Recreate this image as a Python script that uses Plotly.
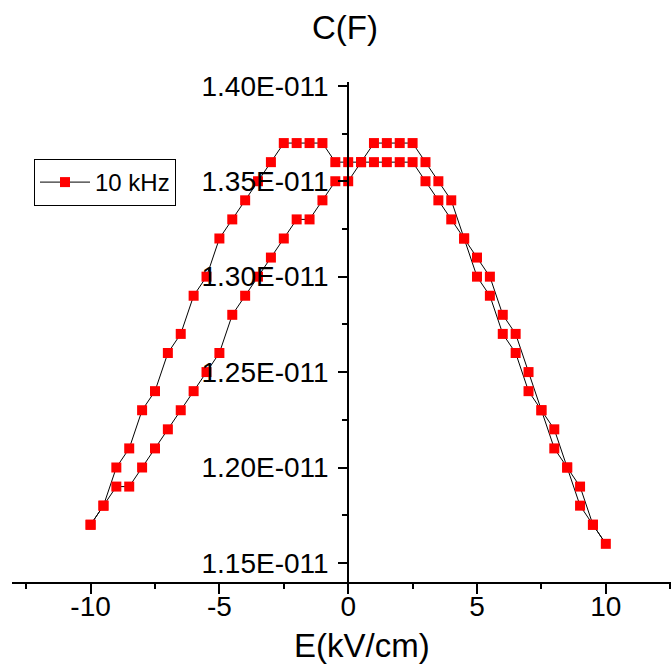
import plotly.graph_objects as go

# Forward sweep (-10 -> +10 kV/cm)
E_forward = [-10, -9.5, -9, -8.5, -8, -7.5, -7, -6.5, -6, -5.5, -5, -4.5, -4, -3.5, -3, -2.5,
             -2, -1.5, -1, -0.5, 0, 0.5, 1, 1.5, 2, 2.5, 3, 3.5, 4, 4.5, 5, 5.5, 6, 6.5, 7,
             7.5, 8, 8.5, 9, 9.5, 10]
C_forward = [1.17, 1.18, 1.19, 1.19, 1.20, 1.21, 1.22, 1.23, 1.24, 1.25, 1.26, 1.28, 1.29, 1.30,
             1.31, 1.32, 1.33, 1.33, 1.34, 1.35, 1.35, 1.36, 1.37, 1.37, 1.37, 1.37, 1.36, 1.35,
             1.34, 1.32, 1.31, 1.30, 1.28, 1.27, 1.25, 1.23, 1.22, 1.20, 1.19, 1.17, 1.16]

# Backward sweep (+9.5 -> -10 kV/cm)
E_backward = [9.5, 9, 8.5, 8, 7.5, 7, 6.5, 6, 5.5, 5, 4.5, 4, 3.5, 3, 2.5, 2, 1.5, 1, 0.5, 0,
              -0.5, -1, -1.5, -2, -2.5, -3, -3.5, -4, -4.5, -5, -5.5, -6, -6.5, -7, -7.5, -8,
              -8.5, -9, -9.5, -10]
C_backward = [1.17, 1.18, 1.20, 1.21, 1.23, 1.24, 1.26, 1.27, 1.29, 1.30, 1.32, 1.33, 1.34, 1.35,
              1.36, 1.36, 1.36, 1.36, 1.36, 1.36, 1.36, 1.37, 1.37, 1.37, 1.37, 1.36, 1.35, 1.34,
              1.33, 1.32, 1.30, 1.29, 1.27, 1.26, 1.24, 1.23, 1.21, 1.20, 1.18, 1.17]

C_scale = 1e-11
series_name = "10 kHz"

x_tick_values = [-10, -5, 0, 5, 10]
x_tick_labels = ["-10", "-5", "0", "5", "10"]
y_tick_values = [1.15, 1.20, 1.25, 1.30, 1.35, 1.40]
y_tick_labels = ["1.15E-011", "1.20E-011", "1.25E-011", "1.30E-011", "1.35E-011", "1.40E-011"]
y_minor_values = [1.175, 1.225, 1.275, 1.325, 1.375]

E = E_forward + E_backward
C = [v * C_scale for v in C_forward + C_backward]

FONT = "Liberation Sans, Arial, sans-serif"

fig = go.Figure(
    go.Scatter(
        x=E, y=C, mode="lines+markers", name=series_name,
        line=dict(color="black", width=1),
        marker=dict(symbol="square", size=10, color="#FF0000", line=dict(width=0)),
    )
)

fig.update_layout(
    width=671, height=664,
    margin=dict(l=12, r=0, t=82, b=82),
    plot_bgcolor="white", paper_bgcolor="white",
    font=dict(family=FONT, size=28, color="black"),
    showlegend=True,
    legend=dict(
        x=0.0334, y=0.846, xanchor="left", yanchor="top",
        bordercolor="black", borderwidth=1, bgcolor="white",
        font=dict(size=24, family=FONT),
        itemwidth=50, tracegroupgap=0,
    ),
    xaxis=dict(
        range=[-13.05, 12.53],
        showgrid=False, zeroline=False,
        showline=True, linecolor="black", linewidth=2,
        tickmode="array", tickvals=x_tick_values, ticktext=x_tick_labels,
        ticks="outside", ticklen=10, tickwidth=2, tickcolor="black",
        ticklabelstandoff=-12,
        tickfont=dict(size=28),
        minor=dict(tickmode="linear", tick0=0, dtick=2.5, ticks="outside",
                   ticklen=5, tickwidth=2, tickcolor="black", showgrid=False),
    ),
    yaxis=dict(
        range=[1.14 * C_scale, 1.402 * C_scale],
        anchor="free", position=0.5102,
        showgrid=False, zeroline=False,
        showline=True, linecolor="black", linewidth=2,
        tickmode="array", tickvals=[v * C_scale for v in y_tick_values], ticktext=y_tick_labels,
        ticks="outside", ticklen=9, tickwidth=2, tickcolor="black",
        ticklabelstandoff=4,
        tickfont=dict(size=28),
        minor=dict(tickmode="array", tickvals=[v * C_scale for v in y_minor_values],
                   ticks="outside", ticklen=5, tickwidth=2, tickcolor="black", showgrid=False),
    ),
    annotations=[
        dict(text="C(F)", x=0.5053, y=1.108, xref="paper", yref="paper",
             xanchor="center", yanchor="middle", showarrow=False,
             font=dict(size=33, family=FONT)),
        dict(text="E(kV/cm)", x=0.531, y=-0.126, xref="paper", yref="paper",
             xanchor="center", yanchor="middle", showarrow=False,
             font=dict(size=33, family=FONT)),
    ],
)

fig.write_html(
    "out.html",
    config={"displayModeBar": False},
    post_script="document.body.style.margin='0';document.body.style.overflow='hidden';",
)
